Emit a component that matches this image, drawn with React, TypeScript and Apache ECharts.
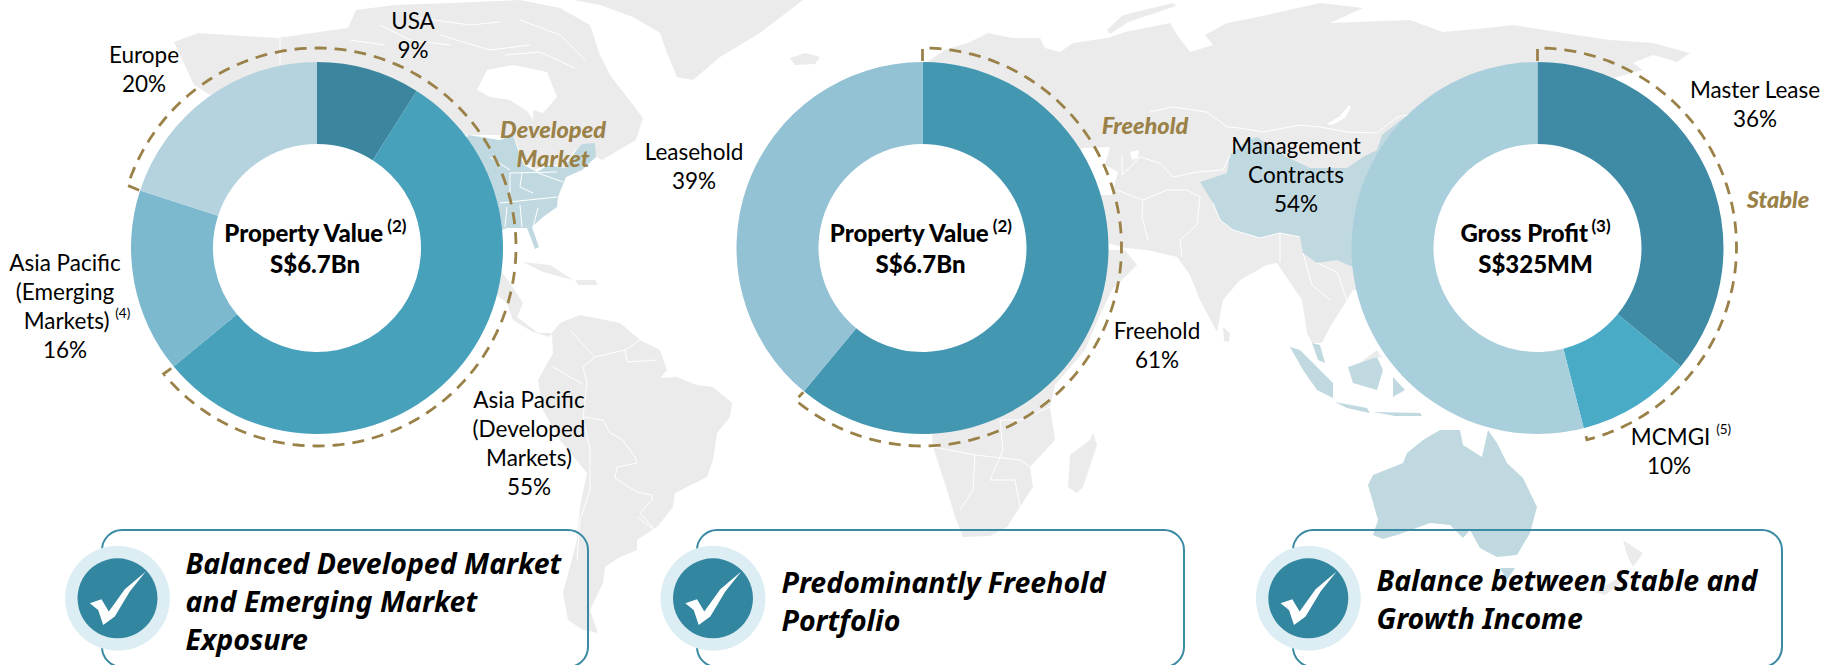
import React, { useEffect, useRef } from "react";
import * as echarts from "echarts";

// ---------- data ----------
const geoCategories = ["USA", "Asia Pacific (Developed Markets)", "Asia Pacific (Emerging Markets)", "Europe"];
const geoValues = [9, 55, 16, 20];
const tenureCategories = ["Freehold", "Leasehold"];
const tenureValues = [61, 39];
const incomeCategories = ["Master Lease", "MCMGI", "Management Contracts"];
const incomeValues = [36, 10, 54];

const geoLabels = ["USA", "Asia Pacific\n(Developed\nMarkets)", "Asia Pacific\n(Emerging\n{pad|}Markets) {s|(4)}", "Europe"];
const tenureLabels = ["Freehold", "Leasehold"];
const incomeLabels = ["Master Lease", "{pad|}MCMGI {s|(5)}", "Management\nContracts"];

const takeaways = [
  "Balanced Developed Market\nand Emerging Market\nExposure",
  "Predominantly Freehold\nPortfolio",
  "Balance between Stable and\nGrowth Income",
];

// ---------- layout and style ----------
const LABEL_FONT = "Lato";
const BOLD_FONT = "Noto Sans";
const GRAY = "#ebebeb";
const BLUE = "#c0d9e1";
const GOLD = "#9a8148";
const TEAL = "#33869f";
const CY = 248;
const R_IN = 104;
const R_OUT = 186;
const R_DASH = 199;

const geoPos = [[413, 35], [529, 443], [65, 306], [144, 68.5]];
const tenurePos = [[1157, 345], [694, 166]];
const incomePos = [[1755, 104], [1669, 451], [1296, 174.5]];

// ---------- background world map (decoration, traced by hand) ----------
const LAND: number[][][] = [
  // Canada and Alaska
  [[174,42],[198,33],[277,38],[348,28],[356,10],[395,5],[450,3],[520,0],[560,8],[590,25],[600,55],[610,75],[643,118],[636,140],[602,160],[582,148],[575,150],[566,168],[548,163],[535,170],[522,158],[513,135],[468,135],[300,150],[194,85]],
  // Greenland
  [[573,0],[803,0],[760,33],[720,57],[693,80],[677,77],[667,53],[660,33],[633,17],[600,5]],
  // Iceland
  [[790,58],[805,53],[820,57],[815,64],[795,65]],
  // Central America
  [[490,240],[500,270],[510,283],[523,303],[517,317],[538,333],[552,333],[550,337],[533,332],[513,320],[507,303],[490,290]],
  // Cuba and Hispaniola
  [[523,262],[550,265],[573,280],[543,272]],
  [[575,280],[595,280],[598,285],[578,285]],
  // South America
  [[552,333],[560,323],[580,315],[620,323],[640,340],[660,350],[667,370],[660,378],[677,377],[697,385],[713,387],[732,403],[730,417],[717,433],[713,460],[707,477],[675,493],[673,507],[657,527],[637,540],[637,550],[618,558],[605,567],[603,583],[590,610],[598,633],[583,630],[568,620],[563,593],[577,540],[580,507],[587,473],[560,440],[543,410],[538,380],[553,353]],
  // Eurasia
  [[925,63],[945,50],[970,42],[988,33],[1012,38],[1040,38],[1045,48],[1060,52],[1073,43],[1107,38],[1125,32],[1170,23],[1177,35],[1190,52],[1213,45],[1205,35],[1227,23],[1253,18],[1320,3],[1363,8],[1330,23],[1410,20],[1443,32],[1487,28],[1513,25],[1563,33],[1610,40],[1653,43],[1690,53],[1677,62],[1653,55],[1633,63],[1643,70],[1613,78],[1560,100],[1500,300],[1353,290],[1347,300],[1330,327],[1322,343],[1312,343],[1307,333],[1302,300],[1277,263],[1267,265],[1240,280],[1223,300],[1217,332],[1200,300],[1190,275],[1177,257],[1147,250],[1125,248],[1108,243],[1000,250],[925,150]],
  // Novaya Zemlya
  [[1107,30],[1123,15],[1173,3],[1176,6],[1128,22],[1110,34]],
  // Africa and Arabia
  [[1000,250],[1105,250],[1125,250],[1137,265],[1112,290],[1100,315],[1085,350],[1055,385],[1050,407],[1055,440],[1030,467],[1033,487],[1020,507],[1007,527],[990,536],[963,537],[955,517],[947,490],[933,447],[930,400]],
  // Madagascar
  [[1093,433],[1097,445],[1083,487],[1077,493],[1068,487],[1070,455],[1090,440]],
  // Sri Lanka
  [[1223,327],[1230,333],[1229,342],[1224,341]],
  // New Zealand
  [[1623,540],[1643,553],[1633,567],[1627,555]],
  [[1620,577],[1625,580],[1605,595],[1595,592]],
  // Sabah
  [[1357,365],[1377,350],[1382,358],[1377,357],[1360,366]],
];
const WATER: number[][][] = [
  // Hudson Bay
  [[477,90],[487,70],[513,65],[547,72],[557,97],[543,113],[533,110],[533,120],[528,112],[510,100],[490,97]],
  // Black Sea and Mediterranean gap
  [[1082,148],[1110,147],[1105,165],[1118,172],[1112,195],[1095,195],[1075,170]],
  // Caspian
  [[1130,152],[1139,150],[1138,158],[1132,160]],
  // Baikal
  [[1327,124],[1340,116],[1349,105],[1351,107],[1345,118],[1332,125]],
];
const HIGHLIGHT: number[][][] = [
  // Eastern USA
  [[468,135],[500,140],[513,135],[518,150],[524,165],[537,172],[548,165],[565,168],[575,152],[582,144],[595,143],[596,157],[582,170],[566,177],[558,197],[557,207],[543,217],[532,227],[539,247],[535,249],[527,228],[507,228],[490,235],[440,200]],
  // China
  [[1200,182],[1227,173],[1230,155],[1248,140],[1257,137],[1287,157],[1310,168],[1347,168],[1363,157],[1377,150],[1382,135],[1397,123],[1408,115],[1420,200],[1400,260],[1353,267],[1337,260],[1317,263],[1303,253],[1300,237],[1280,233],[1260,238],[1233,230],[1220,220],[1213,203]],
  // Sumatra, Java, Borneo, Sulawesi, Malay peninsula
  [[1290,347],[1300,350],[1333,383],[1333,398],[1317,390],[1303,370]],
  [[1335,402],[1367,408],[1370,413],[1347,408]],
  [[1348,367],[1377,357],[1383,370],[1377,390],[1353,383]],
  [[1393,377],[1405,390],[1393,397]],
  [[1312,343],[1320,345],[1325,363],[1318,360]],
  [[1373,412],[1420,413],[1422,416],[1395,416]],
  // Australia
  [[1368,485],[1373,475],[1403,463],[1407,453],[1423,440],[1440,430],[1460,430],[1463,445],[1482,457],[1488,430],[1497,443],[1507,463],[1523,478],[1537,507],[1530,533],[1517,555],[1497,557],[1480,548],[1470,530],[1463,538],[1450,525],[1430,523],[1397,535],[1383,539],[1373,535],[1378,520]],
  // Tasmania
  [[1500,568],[1515,568],[1507,580]],
];
const BORDERS: number[][][] = [
  [[280,38],[280,63]],
  // Arctic channels
  [[420,18],[470,25],[500,22]],
  [[440,35],[490,50],[530,45]],
  [[520,20],[560,35],[585,60]],
  [[380,25],[410,40],[450,45]],
  [[505,55],[540,52],[575,68]],
  [[350,40],[385,45]],
  // USA states
  [[500,203],[557,197]],
  [[507,207],[505,227]],
  [[520,205],[522,227]],
  [[538,208],[533,227]],
  [[510,173],[510,197]],
  [[522,173],[520,187],[533,193]],
  [[510,173],[557,172]],
  [[490,157],[510,170]],
  [[538,173],[563,182]],
  // South America
  [[570,330],[595,357],[583,367],[587,383],[583,417],[603,420],[610,433],[623,440],[635,457],[637,463],[617,467],[615,478],[637,492],[652,495],[652,500],[640,513],[655,530]],
  [[553,367],[572,378],[583,384]],
  [[595,357],[625,350],[640,340]],
  [[583,417],[590,450],[590,490],[580,520],[577,560]],
  [[625,350],[627,362],[657,360]],
  [[637,517],[655,530]],
  // Africa
  [[933,447],[975,455],[1020,460]],
  [[975,455],[973,490],[960,510]],
  [[1020,460],[1030,467]],
  [[1000,420],[1003,450],[990,480],[1015,480],[1020,507]],
  [[1050,407],[1020,420],[1000,420]],
  // Asia
  [[1150,112],[1173,107],[1207,112],[1227,127],[1240,128],[1263,132],[1300,125],[1320,127],[1347,132],[1377,133],[1397,117],[1408,115]],
  [[1122,155],[1122,175],[1140,157],[1160,163],[1173,177],[1197,172],[1223,170],[1230,155]],
  [[1117,190],[1143,200],[1167,190],[1187,190],[1200,197]],
  [[1143,200],[1142,217],[1148,240]],
  [[1200,197],[1197,225],[1180,240],[1182,257]],
  [[1213,203],[1220,220],[1233,230],[1260,238],[1280,233],[1300,237]],
  [[1280,233],[1280,262]],
  [[1303,253],[1312,285],[1330,300]],
  [[1317,263],[1337,272],[1347,300]],
];
const CHECK: number[][] = [[-27.7,5],[-16,1],[-8.7,13.3],[7.3,-9],[28.3,-26.7],[12.3,-6.7],[-2.7,18.3],[-14.3,26.7],[-19.3,11.7]];

const polys = (list: number[][][], fill: string) =>
  list.map((points) => ({ type: "polygon", silent: true, shape: { points }, style: { fill } }));

const lines = (list: number[][][]) =>
  list.map((points) => ({
    type: "polyline",
    silent: true,
    shape: { points },
    style: { stroke: "#ffffff", lineWidth: 1, fill: "none" },
  }));

const share = (values: number[], n: number) =>
  values.slice(0, n).reduce((a, b) => a + b, 0) / values.reduce((a, b) => a + b, 0);

// Dashed bracket round a donut, from one share boundary clockwise to another.
const bracket = (cx: number, from: number, to: number) => {
  const pt = (t: number, r: number, dy: number) => {
    const a = t * 2 * Math.PI;
    return [cx + r * Math.sin(a), CY + dy - r * Math.cos(a)];
  };
  const end = to < from ? to + 1 : to;
  const points: number[][] = [pt(from, R_OUT + 1, 0)];
  for (let i = 0; i <= 180; i++) points.push(pt(from + ((end - from) * i) / 180, R_DASH, -1));
  points.push(pt(end, R_OUT + 1, 0));
  return {
    type: "polyline",
    silent: true,
    shape: { points },
    style: { stroke: GOLD, lineWidth: 2.8, fill: "none", lineDash: [12, 8] },
  };
};

const centerText = (x: number, title: string, sup: string, value: string) => [
  { type: "circle", silent: true, shape: { cx: x, cy: CY, r: R_IN + 1 }, style: { fill: "#fff" } },
  {
    type: "text",
    silent: true,
    x: x - 2,
    y: 247.5,
    style: {
      text: `{a|${title}} {s|${sup}}\n{a|${value}}`,
      align: "center",
      verticalAlign: "middle",
      rich: {
        a: { fontFamily: LABEL_FONT, fontWeight: 900, fontSize: 24, lineHeight: 31, fill: "#000" },
        s: { fontFamily: LABEL_FONT, fontWeight: 700, fontSize: 17, lineHeight: 31, verticalAlign: "top", fill: "#000" },
      },
    },
  },
];

const goldText = (x: number, y: number, text: string) => ({
  type: "text",
  silent: true,
  x,
  y,
  style: {
    text,
    align: "center",
    verticalAlign: "middle",
    fontFamily: LABEL_FONT,
    fontWeight: 900,
    fontStyle: "italic",
    fontSize: 23.5,
    lineHeight: 29,
    fill: GOLD,
  },
});

const box = (left: number, right: number, cx: number, tx: number, ty: number, text: string) => [
  {
    type: "rect",
    silent: true,
    shape: { x: left, y: 530, width: right - left, height: 137, r: 20 },
    style: { fill: "none", stroke: "#3a8aa3", lineWidth: 2 },
  },
  { type: "circle", silent: true, shape: { cx, cy: 598.3, r: 52.5 }, style: { fill: "#dceef3" } },
  { type: "circle", silent: true, shape: { cx, cy: 598.3, r: 40 }, style: { fill: TEAL } },
  {
    type: "polygon",
    silent: true,
    shape: { points: CHECK.map(([dx, dy]) => [cx + dx, 598.3 + dy]) },
    style: { fill: "#fff" },
  },
  {
    type: "text",
    silent: true,
    x: tx,
    y: ty,
    style: {
      text,
      align: "left",
      verticalAlign: "middle",
      fontFamily: BOLD_FONT,
      fontWeight: 700,
      fontStyle: "italic",
      fontSize: 28.5,
      lineHeight: 38,
      fill: "#000",
    },
  },
];

const donut = (
  cx: number,
  categories: string[],
  values: number[],
  colors: string[],
  texts: string[],
  pos: number[][],
) => ({
  type: "pie",
  center: [cx, CY],
  radius: [R_IN, R_OUT],
  startAngle: 90,
  clockwise: true,
  silent: true,
  avoidLabelOverlap: false,
  labelLine: { show: false },
  data: categories.map((name, i) => ({
    name,
    value: values[i],
    itemStyle: { color: colors[i] },
    label: { formatter: `${texts[i]}\n${values[i]}%` },
  })),
  label: {
    show: true,
    position: "outside",
    fontFamily: LABEL_FONT,
    fontSize: 22.5,
    lineHeight: 29,
    color: "#000",
    rich: {
      pad: { width: 24, fontSize: 12, lineHeight: 29 },
      s: { fontFamily: LABEL_FONT, fontSize: 13.5, lineHeight: 29, verticalAlign: "top", color: "#000" },
    },
  },
  labelLayout: (p: any) => ({
    x: pos[p.dataIndex][0],
    y: pos[p.dataIndex][1],
    align: "center",
    verticalAlign: "middle",
    hideOverlap: false,
    moveOverlap: false,
  }),
});

export default function App() {
  const ref = useRef<HTMLDivElement>(null);
  useEffect(() => {
    const chart = echarts.init(ref.current!, undefined, { renderer: "svg" });
    chart.setOption({
      animation: false,
      backgroundColor: "#ffffff",
      graphic: {
        elements: [
          ...polys(LAND, GRAY),
          ...polys(HIGHLIGHT, BLUE),
          ...polys(WATER, "#ffffff"),
          ...lines(BORDERS),
          bracket(317, share(geoValues, 3), share(geoValues, 2)),
          bracket(922.5, 0, share(tenureValues, 1)),
          bracket(1537.5, 0, share(incomeValues, 2)),
          ...centerText(317, "Property Value", "(2)", "S$6.7Bn"),
          ...centerText(922.5, "Property Value", "(2)", "S$6.7Bn"),
          ...centerText(1537.5, "Gross Profit", "(3)", "S$325MM"),
          goldText(553, 143.5, "Developed\nMarket"),
          goldText(1145, 125, "Freehold"),
          goldText(1778, 199, "Stable"),
          ...box(102, 588, 117.5, 185.5, 600.5, takeaways[0]),
          ...box(697, 1184, 713, 781.5, 601, takeaways[1]),
          ...box(1293, 1782, 1308.3, 1376.5, 599, takeaways[2]),
        ],
      },
      series: [
        donut(317, geoCategories, geoValues, ["#3b869e", "#47a1bb", "#7cb9cf", "#b4d3df"], geoLabels, geoPos),
        donut(922.5, tenureCategories, tenureValues, ["#4397b1", "#93c2d4"], tenureLabels, tenurePos),
        donut(1537.5, incomeCategories, incomeValues, ["#3f8ba5", "#4aabc6", "#a9cedc"], incomeLabels, incomePos),
      ],
    });
    return () => chart.dispose();
  }, []);
  return <div ref={ref} style={{ position: "fixed", left: 0, top: 0, width: 1824, height: 665 }} />;
}
